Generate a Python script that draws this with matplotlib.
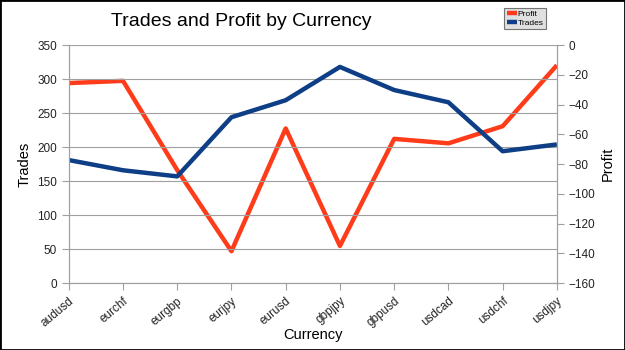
import matplotlib
matplotlib.use('Agg')
import matplotlib.pyplot as plt
import numpy as np

plt.rcParams['font.family'] = ['Liberation Sans', 'DejaVu Sans']

currency = ['audusd', 'eurchf', 'eurgbp', 'eurjpy', 'eurusd',
            'gbpjpy', 'gbpusd', 'usdcad', 'usdchf', 'usdjpy']
trades = [181, 166, 157, 244, 269, 318, 284, 266, 194, 204]
profit = [-25.5, -24, -84, -138.5, -56, -135, -63, -66, -54.5, -13.5]

fig = plt.figure(figsize=(6.25, 3.5), dpi=100)
ax = fig.add_axes([0.110, 0.191, 0.781, 0.680])
ax2 = ax.twinx()

x = np.arange(len(currency))
grey = '#a0a0a0'

ln2, = ax2.plot(x, profit, color='#ff3c1a', lw=3.2, label='Profit', solid_capstyle='butt')
ln1, = ax.plot(x, trades, color='#0e3f86', lw=3.2, label='Trades', solid_capstyle='butt')
ax.set_zorder(ax2.get_zorder() + 1)
ax.patch.set_visible(False)

ax.set_xlim(0, len(currency) - 1)
ax.set_ylim(0, 350)
ax.set_yticks(range(0, 351, 50))
ax2.set_ylim(-160, 0)
ax2.set_yticks(range(-160, 1, 20))
ax.yaxis.grid(True, color=grey, lw=0.8)
ax.set_axisbelow(True)

ax.set_xticks(x)
ax.set_xticklabels(currency, rotation=40, ha='right', rotation_mode='anchor', fontsize=8.5)
for a in (ax, ax2):
    a.tick_params(colors=grey, labelcolor='#222222', labelsize=8.5, length=5)
    for s in a.spines.values():
        s.set_color(grey)
    a.spines['top'].set_visible(False)

ax.set_xlabel('Currency', fontsize=10.5, labelpad=-1)
ax.set_ylabel('Trades', fontsize=10.5)
ax2.set_ylabel('Profit', fontsize=10.5, labelpad=4)

fig.text(0.177, 0.925, 'Trades and Profit by Currency', fontsize=14)

leg = fig.legend(handles=[ln2, ln1], loc='upper left', bbox_to_anchor=(0.8, 0.99),
                 fontsize=6, frameon=True, fancybox=False, handlelength=1.2,
                 handletextpad=0.1, borderpad=0.3, labelspacing=0.1)
leg.get_frame().set_facecolor('#d9d9d9')
leg.get_frame().set_edgecolor('#555555')
leg.get_frame().set_linewidth(0.8)

fig.patches.append(plt.Rectangle((0, 0), 1, 1, transform=fig.transFigure,
                                 fill=False, edgecolor='black', lw=2))

fig.savefig('out.png', dpi=100)
